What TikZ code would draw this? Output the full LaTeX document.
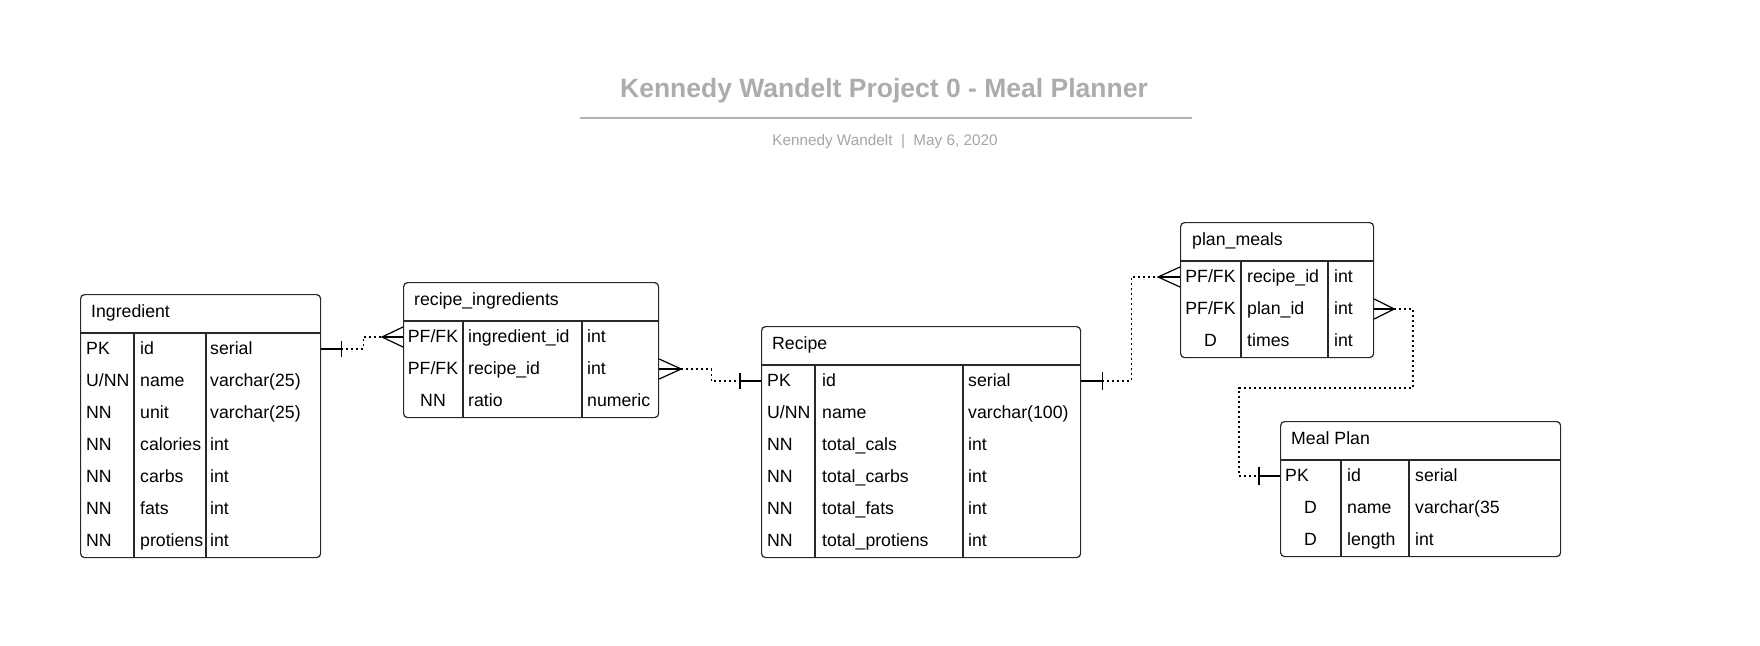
\documentclass[tikz,border=0pt]{standalone}
\usepackage{fontspec}
\setmainfont{Liberation Sans}
\usetikzlibrary{calc}
\definecolor{titlegray}{RGB}{172,172,172}
\definecolor{rulegray}{RGB}{178,178,178}
\definecolor{subgray}{RGB}{165,165,165}
\definecolor{bordc}{RGB}{40,40,40}
\newcommand\cellfont{\fontsize{17.7}{20}\selectfont}
\begin{document}
\begin{tikzpicture}[x=1pt,y=-1pt,
  tbl/.style={draw=bordc, line width=1.2pt, rounded corners=4pt, inner sep=0pt, anchor=north west},
  sep/.style={draw=bordc, line width=1.2pt},
  txt/.style={inner sep=0pt, anchor=base west, font=\cellfont},
  ctxt/.style={inner sep=0pt, anchor=base, font=\cellfont},
  rel/.style={line width=1.2pt, draw=black},
  dots/.style={line width=1.1pt, draw=black, dash pattern=on 2pt off 3pt},
]
\useasboundingbox[fill=white] (0,0) rectangle (1760,645);

% ---------- title ----------
\node[inner sep=0pt, anchor=base, text=titlegray, font=\bfseries\fontsize{26.5}{30}\selectfont] (title) at (884,97) {Kennedy Wandelt Project 0 - Meal Planner};
\draw[rulegray, line width=2pt] (580,118) -- (1192,118);
\node[inner sep=0pt, anchor=base, text=subgray, font=\fontsize{15.3}{18}\selectfont] (subtitle) at (885,145) {Kennedy Wandelt\ \ |\ \ May 6, 2020};

% ---------- Ingredient ----------
\node[tbl, minimum width=240pt, minimum height=263pt] (ing) at (80,294) {};
\draw[sep] (80,333) -- (320,333);
\draw[sep] (134,333) -- (134,557);
\draw[sep] (206,333) -- (206,557);
\node[txt] (ingh) at (91,317) {Ingredient};
\foreach \k/\n/\t [count=\i from 0] in {PK/id/serial, U\slash NN/name/varchar(25), NN/unit/varchar(25), NN/calories/int, NN/carbs/int, NN/fats/int, NN/protiens/int}{
  \node[txt] (ingk\i) at (86,354+32*\i) {\k};
  \node[txt] (ingn\i) at (140,354+32*\i) {\n};
  \node[txt] (ingt\i) at (210,354+32*\i) {\t};
}

% ---------- recipe_ingredients ----------
\node[tbl, minimum width=255pt, minimum height=135pt] (ri) at (403,282) {};
\draw[sep] (403,321) -- (658,321);
\draw[sep] (463,321) -- (463,417);
\draw[sep] (582,321) -- (582,417);
\node[txt] (rih) at (414,305) {recipe\_ingredients};
\foreach \k/\n/\t [count=\i from 0] in {PF\slash FK/ingredient\_id/int, PF\slash FK/recipe\_id/int, NN/ratio/numeric}{
  \node[ctxt] (rik\i) at (433,342+32*\i) {\k};
  \node[txt] (rin\i) at (468,342+32*\i) {\n};
  \node[txt] (rit\i) at (587,342+32*\i) {\t};
}

% ---------- Recipe ----------
\node[tbl, minimum width=319pt, minimum height=231pt] (rec) at (761,326) {};
\draw[sep] (761,365) -- (1080,365);
\draw[sep] (815,365) -- (815,557);
\draw[sep] (963,365) -- (963,557);
\node[txt] (rech) at (772,349) {Recipe};
\foreach \k/\n/\t [count=\i from 0] in {PK/id/serial, U\slash NN/name/varchar(100), NN/total\_cals/int, NN/total\_carbs/int, NN/total\_fats/int, NN/total\_protiens/int}{
  \node[txt] (reck\i) at (767,386+32*\i) {\k};
  \node[txt] (recn\i) at (822,386+32*\i) {\n};
  \node[txt] (rect\i) at (968,386+32*\i) {\t};
}

% ---------- plan_meals ----------
\node[tbl, minimum width=193pt, minimum height=135pt] (pm) at (1180,222) {};
\draw[sep] (1180,261) -- (1373,261);
\draw[sep] (1241,261) -- (1241,357);
\draw[sep] (1328,261) -- (1328,357);
\node[txt] (pmh) at (1192,245) {plan\_meals};
\foreach \k/\n/\t [count=\i from 0] in {PF\slash FK/recipe\_id/int, PF\slash FK/plan\_id/int, D/times/int}{
  \node[ctxt] (pmk\i) at (1210.5,282+32*\i) {\k};
  \node[txt] (pmn\i) at (1247,282+32*\i) {\n};
  \node[txt] (pmt\i) at (1334,282+32*\i) {\t};
}

% ---------- Meal Plan ----------
\node[tbl, minimum width=280pt, minimum height=135pt] (mp) at (1280,421) {};
\draw[sep] (1280,460) -- (1560,460);
\draw[sep] (1341,460) -- (1341,556);
\draw[sep] (1409,460) -- (1409,556);
\node[txt] (mph) at (1291,444) {Meal Plan};
\node[txt] (mpk0) at (1285,481) {PK};
\node[ctxt] (mpk1) at (1310.5,513) {D};
\node[ctxt] (mpk2) at (1310.5,545) {D};
\node[txt] (mpn0) at (1347,481) {id};
\node[txt] (mpn1) at (1347,513) {name};
\node[txt] (mpn2) at (1347,545) {length};
\node[txt] (mpt0) at (1415,481) {serial};
\node[txt] (mpt1) at (1415,513) {varchar(35};
\node[txt] (mpt2) at (1415,545) {int};

% ---------- anchors on table edges ----------
\coordinate (ingE) at (ing.east |- 0,349);
\coordinate (riW)  at (ri.west |- 0,337);
\coordinate (riE)  at (ri.east |- 0,369);
\coordinate (recW) at (rec.west |- 0,381);
\coordinate (recE) at (rec.east |- 0,381);
\coordinate (pmW)  at (pm.west |- 0,277);
\coordinate (pmE)  at (pm.east |- 0,309);
\coordinate (mpW)  at (mp.west |- 0,476);

% ---------- Ingredient -> recipe_ingredients ----------
\draw[rel] (ingE) -- ++(20,0) coordinate (b1);
\draw[rel] (b1) ++(0,-8) -- ++(0,16);
\coordinate (t1) at ($(riW)+(-21,0)$);
\draw[dots] (b1) -- ++(22,0) |- (t1);
\draw[rel] ($(riW)+(0,-10)$) -- (t1) -- ($(riW)+(0,10)$);
\draw[rel] (t1) -- (riW);

% ---------- recipe_ingredients -> Recipe ----------
\coordinate (t2) at ($(riE)+(22,0)$);
\draw[rel] ($(riE)+(0,-10)$) -- (t2) -- ($(riE)+(0,10)$);
\draw[rel] (riE) -- (t2);
\draw[rel] (recW) -- ++(-21,0) coordinate (b2);
\draw[rel] (b2) ++(0,-8) -- ++(0,16);
\draw[dots] (t2) -- ++(30,0) |- (b2);

% ---------- Recipe -> plan_meals ----------
\draw[rel] (recE) -- ++(21,0) coordinate (b3);
\draw[rel] (b3) ++(0,-9) -- ++(0,18);
\coordinate (t3) at ($(pmW)+(-22,0)$);
\draw[rel] ($(pmW)+(0,-10)$) -- (t3) -- ($(pmW)+(0,10)$);
\draw[rel] (t3) -- (pmW);
\draw[dots] (b3) -- ++(29,0) |- (t3);

% ---------- plan_meals -> Meal Plan ----------
\coordinate (t4) at ($(pmE)+(20,0)$);
\draw[rel] ($(pmE)+(0,-10)$) -- (t4) -- ($(pmE)+(0,10)$);
\draw[rel] (pmE) -- (t4);
\draw[rel] (mpW) -- ++(-21,0) coordinate (b4);
\draw[rel] (b4) ++(0,-9) -- ++(0,18);
\coordinate (k4) at (1413,388);
\draw[dots] (t4) -| (k4) -| (1239,476) -- (b4);
\end{tikzpicture}
\end{document}
